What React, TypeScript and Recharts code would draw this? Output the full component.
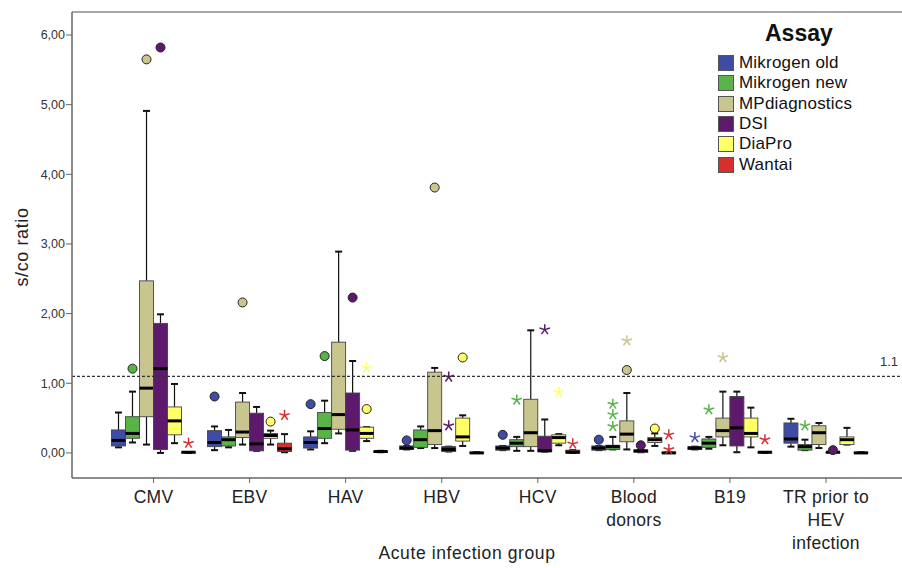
import React from "react";
import {
  ComposedChart,
  Bar,
  XAxis,
  YAxis,
  ReferenceLine,
} from "recharts";

const FONT = "'Liberation Sans', Arial, Helvetica, sans-serif";

const GROUPS = ["CMV", "EBV", "HAV", "HBV", "HCV", "Blood donors", "B19", "TR prior to HEV infection"];
const GROUP_LINES = [["CMV"], ["EBV"], ["HAV"], ["HBV"], ["HCV"], ["Blood", "donors"], ["B19"], ["TR prior to", "HEV", "infection"]];

const ASSAYS = ["Mikrogen old", "Mikrogen new", "MPdiagnostics", "DSI", "DiaPro", "Wantai"];
const ASSAY_COLORS = ["#3f4ca6", "#58b446", "#c9c58f", "#5d1a6d", "#ffff66", "#d5302c"];

const Y_DOMAIN = [-0.36, 6.33];
const Y_TICKS = [0, 1, 2, 3, 4, 5, 6];
const CUTOFF = 1.1;

// [lower whisker, q1, median, q3, upper whisker] per group
const mikrogenOld = [
  [0.08, 0.1, 0.18, 0.33, 0.58],
  [0.04, 0.09, 0.15, 0.32, 0.38],
  [0.05, 0.07, 0.15, 0.23, 0.31],
  [0.05, 0.05, 0.07, 0.1, 0.1],
  [0.04, 0.04, 0.07, 0.1, 0.1],
  [0.04, 0.04, 0.07, 0.1, 0.1],
  [0.05, 0.05, 0.07, 0.09, 0.09],
  [0.09, 0.14, 0.2, 0.43, 0.49],
];
const mikrogenNew = [
  [0.15, 0.21, 0.28, 0.52, 0.88],
  [0.08, 0.1, 0.19, 0.23, 0.33],
  [0.14, 0.21, 0.35, 0.58, 0.75],
  [0.07, 0.08, 0.19, 0.33, 0.38],
  [0.03, 0.09, 0.14, 0.19, 0.23],
  [0.05, 0.05, 0.09, 0.11, 0.23],
  [0.06, 0.08, 0.14, 0.2, 0.23],
  [0.04, 0.04, 0.09, 0.12, 0.19],
];
const mpDiagnostics = [
  [0.12, 0.52, 0.93, 2.47, 4.91],
  [0.12, 0.22, 0.3, 0.73, 0.86],
  [0.28, 0.34, 0.55, 1.59, 2.89],
  [0.07, 0.12, 0.32, 1.16, 1.22],
  [0.03, 0.09, 0.29, 0.77, 1.76],
  [0.05, 0.16, 0.27, 0.46, 0.86],
  [0.11, 0.23, 0.32, 0.5, 0.88],
  [0.07, 0.12, 0.29, 0.39, 0.43],
];
const dsi = [
  [0.0, 0.05, 1.21, 1.86, 1.99],
  [0.03, 0.03, 0.13, 0.57, 0.66],
  [0.03, 0.04, 0.33, 0.86, 1.32],
  [0.02, 0.02, 0.05, 0.09, 0.09],
  [0.02, 0.02, 0.03, 0.24, 0.48],
  [0.01, 0.01, 0.03, 0.04, 0.04],
  [0.01, 0.1, 0.36, 0.81, 0.88],
  [0.0, 0.0, 0.01, 0.01, 0.01],
];
const diaPro = [
  [0.14, 0.26, 0.46, 0.66, 0.99],
  [0.12, 0.21, 0.25, 0.28, 0.32],
  [0.17, 0.21, 0.28, 0.37, 0.37],
  [0.1, 0.17, 0.23, 0.5, 0.54],
  [0.11, 0.14, 0.22, 0.26, 0.27],
  [0.1, 0.15, 0.19, 0.22, 0.28],
  [0.08, 0.23, 0.28, 0.5, 0.65],
  [0.12, 0.12, 0.19, 0.23, 0.36],
];
const wantai = [
  [0.0, 0.0, 0.01, 0.01, 0.01],
  [0.01, 0.02, 0.06, 0.14, 0.27],
  [0.01, 0.01, 0.02, 0.02, 0.03],
  [0.0, 0.0, 0.0, 0.01, 0.01],
  [0.0, 0.0, 0.01, 0.04, 0.04],
  [0.0, 0.0, 0.0, 0.01, 0.01],
  [0.0, 0.0, 0.01, 0.01, 0.01],
  [0.0, 0.0, 0.0, 0.01, 0.01],
];

// outliers (circles) and extremes (stars): [group index, value]
const circles = [
  [[1, 0.81], [2, 0.7], [3, 0.18], [4, 0.26], [5, 0.19]],
  [[0, 1.21], [2, 1.39]],
  [[0, 5.65], [1, 2.16], [3, 3.81], [5, 1.19]],
  [[0, 5.82], [2, 2.23], [5, 0.11], [7, 0.04]],
  [[1, 0.45], [2, 0.63], [3, 1.37], [5, 0.35]],
  [],
];
const stars = [
  [[6, 0.22]],
  [[4, 0.76], [5, 0.38], [5, 0.55], [5, 0.7], [6, 0.62], [7, 0.39]],
  [[5, 1.61], [6, 1.37]],
  [[3, 0.39], [3, 1.09], [4, 1.77]],
  [[2, 1.22], [4, 0.87]],
  [[0, 0.14], [1, 0.54], [4, 0.13], [5, 0.05], [5, 0.26], [6, 0.19]],
];

const BOXES = [mikrogenOld, mikrogenNew, mpDiagnostics, dsi, diaPro, wantai];

const rows = GROUPS.map((g, gi) => {
  const stats = BOXES.map((series, si) => {
    const box = series[gi];
    const circ = circles[si].filter((c) => c[0] === gi).map((c) => c[1]);
    const st = stars[si].filter((c) => c[0] === gi).map((c) => c[1]);
    const all = [...box, ...circ, ...st];
    return { box, circ, st, range: [Math.min(...all), Math.max(...all)] };
  });
  return { group: g, stats };
});

const Star = ({ cx, cy, color }: any) => {
  const r = 5.5;
  const arms = [0, 1, 2, 3, 4].map((k) => {
    const a = ((-90 + k * 72) * Math.PI) / 180;
    return <line key={k} x1={cx} y1={cy} x2={cx + r * Math.cos(a)} y2={cy + r * Math.sin(a)} stroke={color} strokeWidth={1.5} />;
  });
  return <g>{arms}</g>;
};

const makeBoxShape = (si: number) => (props: any) => {
  const { x, y, width, height, payload } = props;
  const s = payload.stats[si];
  const [vmin, vmax] = s.range;
  const top = Math.min(y, y + height);
  const bot = Math.max(y, y + height);
  const py = (v: number) => (vmax === vmin ? top : top + ((vmax - v) / (vmax - vmin)) * (bot - top));
  const [lo, q1, med, q3, hi] = s.box;
  const cx = x + width / 2;
  const cap = width * 0.25;
  const color = ASSAY_COLORS[si];
  return (
    <g>
      <line x1={cx} x2={cx} y1={py(hi)} y2={py(q3)} stroke="#111" strokeWidth={1.2} />
      <line x1={cx} x2={cx} y1={py(q1)} y2={py(lo)} stroke="#111" strokeWidth={1.2} />
      <line x1={cx - cap} x2={cx + cap} y1={py(hi)} y2={py(hi)} stroke="#111" strokeWidth={2} />
      <line x1={cx - cap} x2={cx + cap} y1={py(lo)} y2={py(lo)} stroke="#111" strokeWidth={2} />
      <rect x={x} y={py(q3)} width={width} height={Math.max(py(q1) - py(q3), 0.5)} fill={color} stroke="#444" strokeWidth={0.9} />
      <line x1={x} x2={x + width} y1={py(med)} y2={py(med)} stroke="#000" strokeWidth={3} />
      {s.circ.map((v: number, k: number) => (
        <circle key={"c" + k} cx={cx} cy={py(v)} r={4.5} fill={color} stroke="#222" strokeWidth={1} />
      ))}
      {s.st.map((v: number, k: number) => (
        <Star key={"s" + k} cx={cx} cy={py(v)} color={color} />
      ))}
    </g>
  );
};

const XTick = ({ x, y, payload }: any) => {
  const lines = GROUP_LINES[GROUPS.indexOf(payload.value)] || [payload.value];
  return (
    <text x={x} y={y} textAnchor="middle" fill="#222" fontSize={17.5} letterSpacing={0.3} fontFamily={FONT}>
      {lines.map((l: string, i: number) => (
        <tspan key={i} x={x} dy={i === 0 ? 18 : 23}>
          {l}
        </tspan>
      ))}
    </text>
  );
};

const LegendBox = () => (
  <div style={{ position: "absolute", top: 19, left: 718, fontFamily: FONT, color: "#111" }}>
    <div style={{ fontWeight: "bold", fontSize: 23, lineHeight: "28px", marginLeft: 47, marginBottom: 6 }}>Assay</div>
    {ASSAYS.map((a, i) => (
      <div key={a} style={{ display: "flex", alignItems: "center", height: 20.3 }}>
        <div style={{ width: 14, height: 14, background: ASSAY_COLORS[i], border: "1px solid #555", marginRight: 5 }} />
        <span style={{ fontSize: 17, letterSpacing: 0.2 }}>{a}</span>
      </div>
    ))}
  </div>
);

export default function App() {
  return (
    <div style={{ position: "absolute", left: 0, top: 0, width: 902, height: 568, background: "#fff" }}>
      <ComposedChart
        width={902}
        height={568}
        data={rows}
        margin={{ top: 12, right: 0, left: 0, bottom: 0 }}
        barCategoryGap={6}
        barGap={0}
      >
        <XAxis
          dataKey="group"
          height={90}
          padding={{ left: 33.5, right: 28 }}
          axisLine={{ stroke: "#666", strokeWidth: 1.5 }}
          tickLine={{ stroke: "#666" }}
          tickSize={5}
          tick={<XTick />}
          interval={0}
          label={{
            content: () => (
              <text x={467} y={559} textAnchor="middle" fontSize={17.5} letterSpacing={0.6} fill="#222" fontFamily={FONT}>
                Acute infection group
              </text>
            ),
          }}
        />
        <YAxis
          width={72}
          domain={Y_DOMAIN}
          allowDataOverflow
          ticks={Y_TICKS}
          tickFormatter={(v: number) => v.toFixed(2).replace(".", ",")}
          tick={{ fill: "#333", fontSize: 12.5, fontFamily: FONT }}
          tickSize={6}
          tickMargin={1}
          axisLine={{ stroke: "#666", strokeWidth: 1.5 }}
          tickLine={{ stroke: "#666" }}
          label={{
            content: (p: any) => {
              const vb = p.viewBox || { y: 12, height: 466 };
              const cy = vb.y + vb.height / 2 + 2;
              return (
                <text x={22} y={cy} transform={`rotate(-90 22 ${cy})`} textAnchor="middle" dominantBaseline="central" fontSize={18} letterSpacing={0.6} fill="#222" fontFamily={FONT}>
                  s/co ratio
                </text>
              );
            },
          }}
        />
        <ReferenceLine y={Y_DOMAIN[1]} stroke="#888" strokeWidth={1.5} />
        <ReferenceLine
          y={CUTOFF}
          stroke="#333"
          strokeWidth={1.3}
          strokeDasharray="3 2"
          label={{
            content: (p: any) => {
              const vb = p.viewBox;
              return (
                <text x={vb.x + vb.width - 4} y={vb.y - 10} textAnchor="end" fontSize={13} fill="#333" fontFamily={FONT}>
                  {String(CUTOFF)}
                </text>
              );
            },
          }}
        />
        {ASSAYS.map((a, si) => (
          <Bar
            key={a}
            name={a}
            dataKey={(r: any) => r.stats[si].range}
            fill={ASSAY_COLORS[si]}
            shape={makeBoxShape(si)}
            isAnimationActive={false}
          />
        ))}
      </ComposedChart>
      <LegendBox />
    </div>
  );
}
